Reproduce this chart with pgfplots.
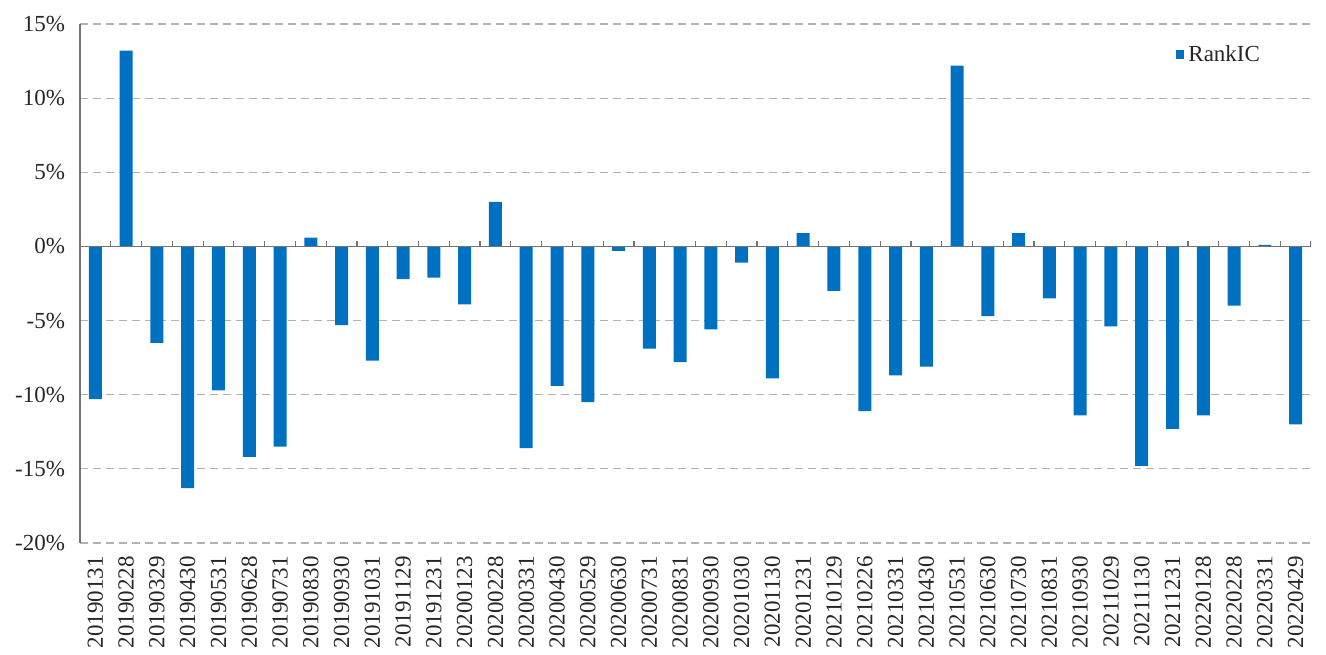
\documentclass[border=0pt]{standalone}
\usepackage{fontspec}
\setmainfont{Liberation Serif}
\usepackage{pgfplots}
\pgfplotsset{compat=1.18}
\definecolor{barblue}{RGB}{0,112,192}
\definecolor{txt}{RGB}{38,38,38}
\begin{document}
\begin{tikzpicture}
\begin{axis}[
  scale only axis, width=615.5pt, height=259.5pt,
  at={(0,0)}, anchor=south west,
  xmin=-0.5, xmax=39.5, ymin=-20, ymax=15,
  ytick={-20,-15,...,15},
  yticklabel={\pgfmathprintnumber{\tick}\%},
  /pgf/number format/assume math mode=true,
  xtick={0,...,39},
  xticklabels={20190131,20190228,20190329,20190430,20190531,20190628,20190731,20190830,20190930,20191031,20191129,20191231,20200123,20200228,20200331,20200430,20200529,20200630,20200731,20200831,20200930,20201030,20201130,20201231,20210129,20210226,20210331,20210430,20210531,20210630,20210730,20210831,20210930,20211029,20211130,20211231,20220128,20220228,20220331,20220429},
  xticklabel style={rotate=90, anchor=east, xshift=-3pt, font=\fontsize{11.5}{12}\selectfont, text=txt},
  yticklabel style={xshift=-4pt, font=\fontsize{11.5}{12}\selectfont, text=txt},
  x tick style={draw=none},
  y tick style={draw=none},
  axis x line*=bottom, axis y line*=left,
  x axis line style={draw=none},
  y axis line style={draw=black!55, line width=0.8pt},
  ymajorgrids, grid style={dash pattern=on 4pt off 2.5pt, draw=black!30, line width=0.6pt},
  enlarge x limits=false,
  legend style={at={(0.967,0.975)}, anchor=north east, draw=none, fill=none,
    font=\fontsize{11.5}{12}\selectfont, text=txt},
  legend image code/.code={\fill[barblue] (0pt,-2.2pt) rectangle (4.4pt,2.2pt);},
]
\addplot[ybar, bar width=6.5pt, fill=barblue, draw=none] coordinates {
(0,-10.3) (1,13.2) (2,-6.5) (3,-16.3) (4,-9.7) (5,-14.2) (6,-13.5) (7,0.6)
(8,-5.3) (9,-7.7) (10,-2.2) (11,-2.1) (12,-3.9) (13,3.0) (14,-13.6) (15,-9.4)
(16,-10.5) (17,-0.3) (18,-6.9) (19,-7.8) (20,-5.6) (21,-1.1) (22,-8.9) (23,0.9)
(24,-3.0) (25,-11.1) (26,-8.7) (27,-8.1) (28,12.2) (29,-4.7) (30,0.9) (31,-3.5)
(32,-11.4) (33,-5.4) (34,-14.8) (35,-12.3) (36,-11.4) (37,-4.0) (38,0.1) (39,-12.0)
};
\addlegendentry{RankIC}
\draw[black!55, line width=0.8pt] (axis cs:-0.5,0) -- (axis cs:39.5,0);
\pgfplotsinvokeforeach{0,...,39}{
  \draw[black!55, line width=0.6pt] (axis cs:#1+0.5,0) -- ([yshift=2.5pt]axis cs:#1+0.5,0);
}
\end{axis}
\path[use as bounding box] (-40pt,-55.5pt) rectangle (623pt,271.5pt);
\end{tikzpicture}
\end{document}
